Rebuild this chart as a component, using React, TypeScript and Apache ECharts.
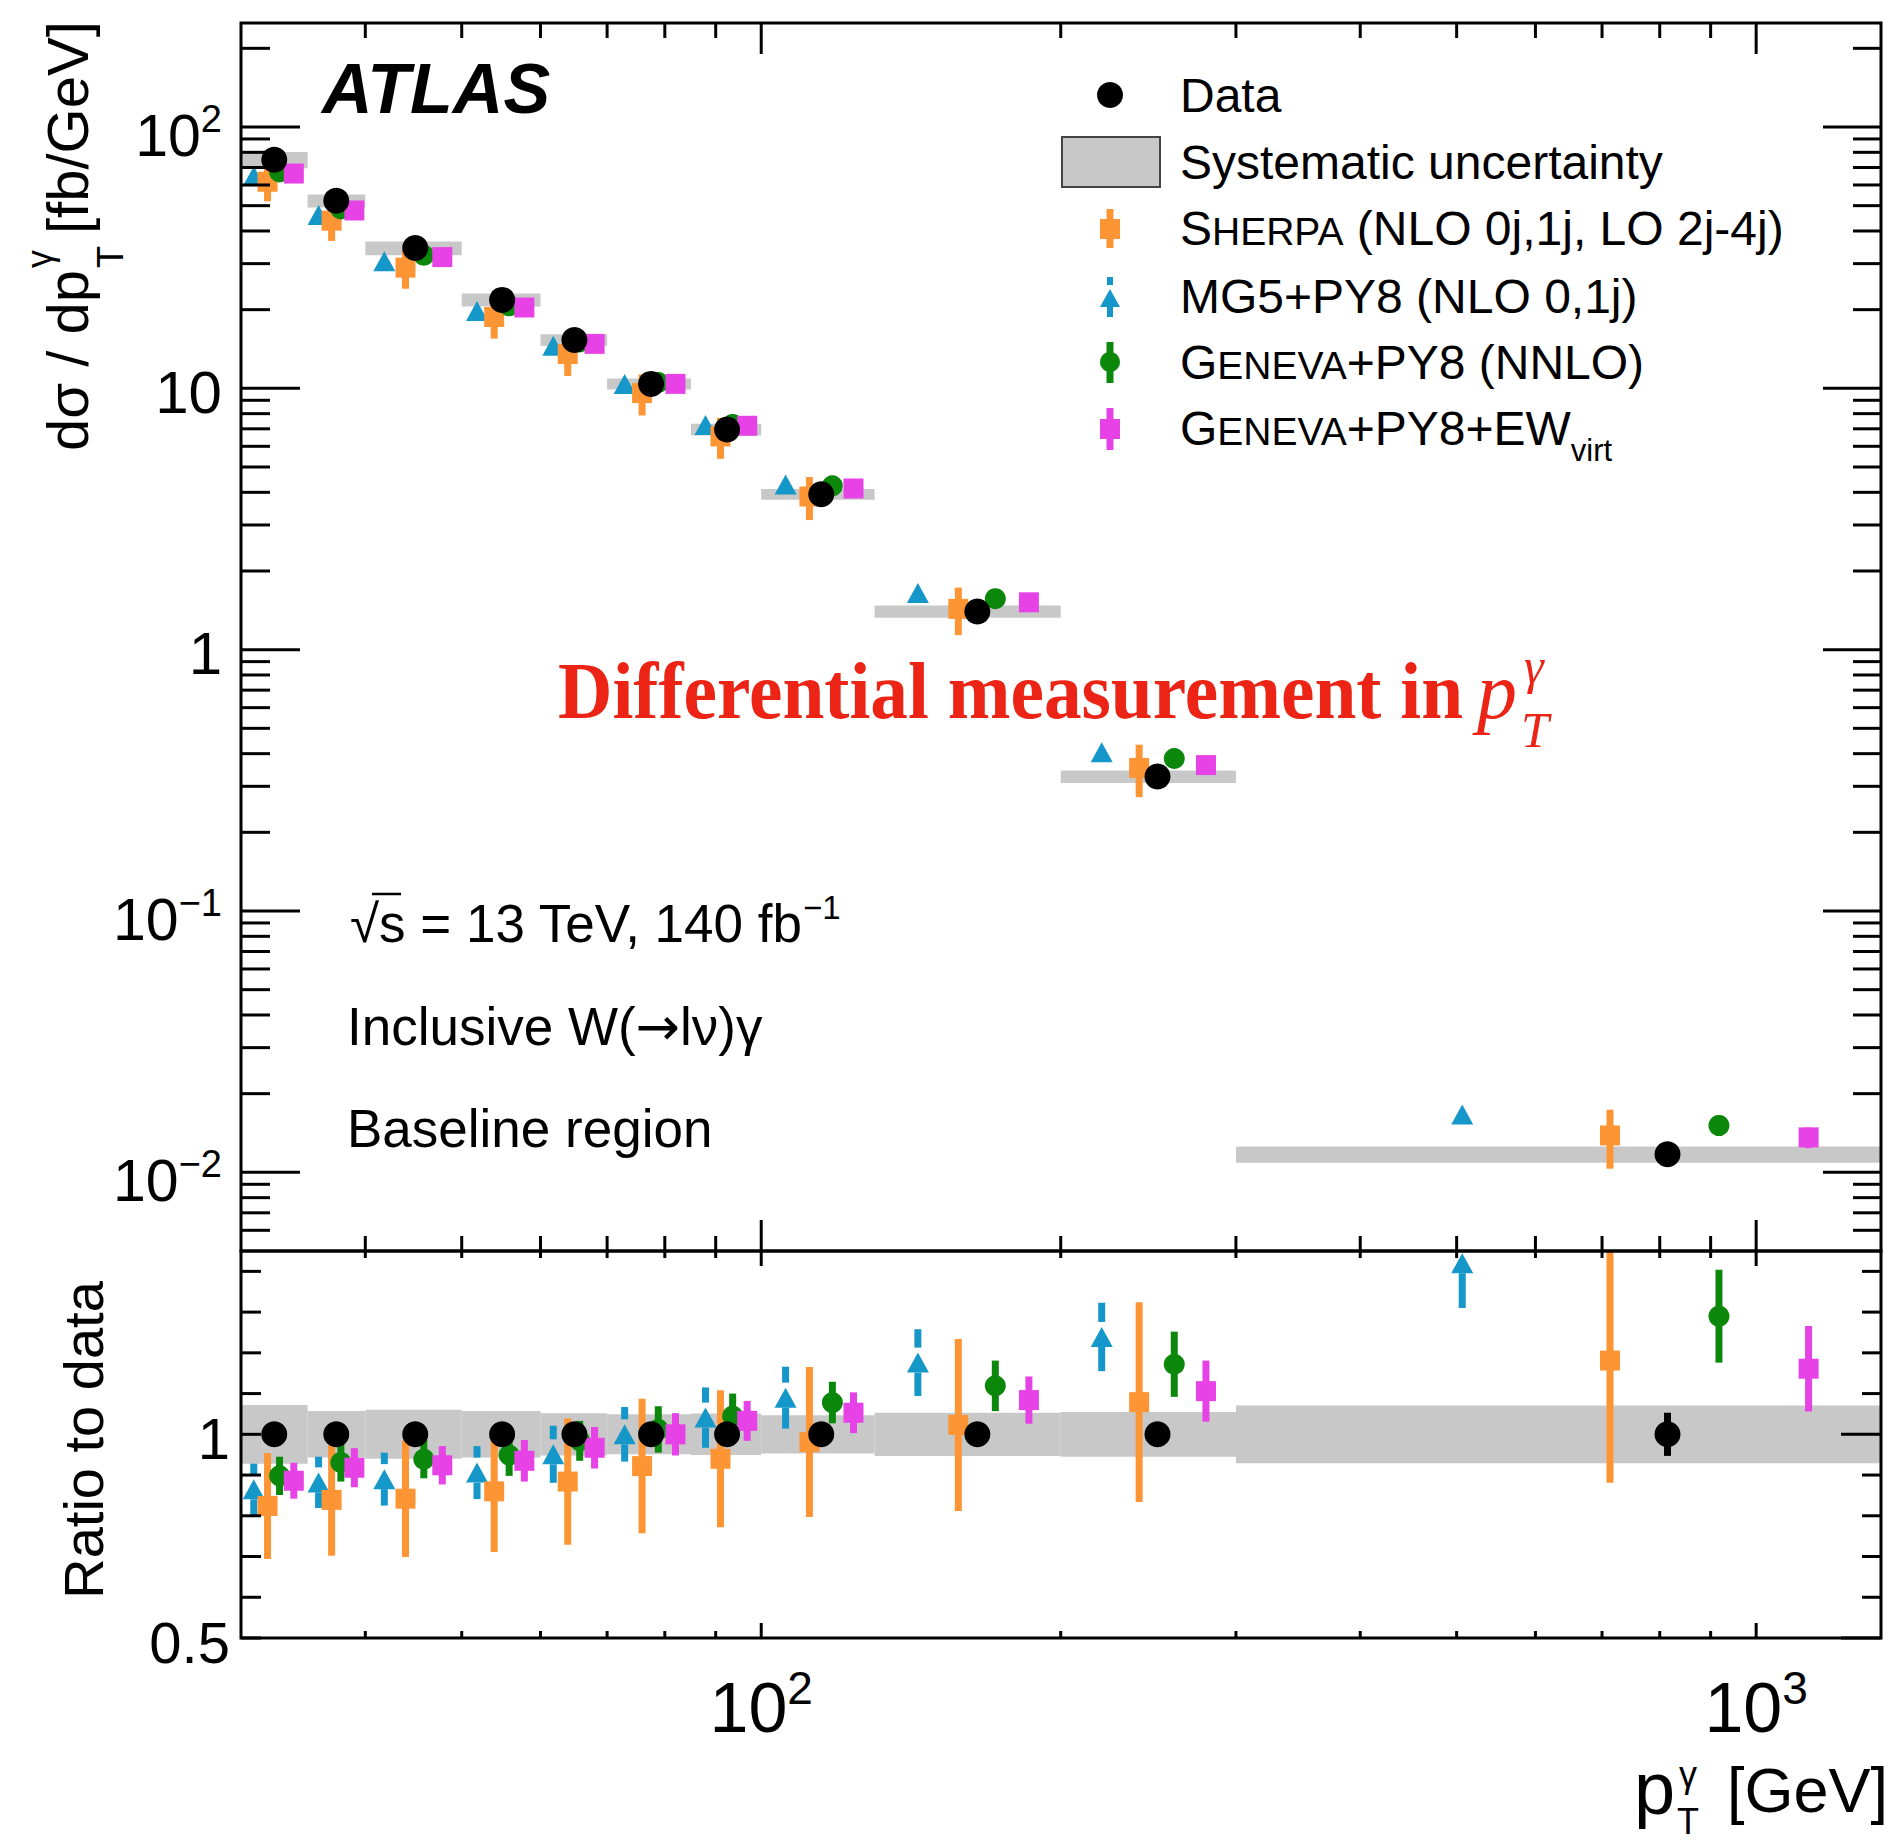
import React, { useEffect, useRef } from 'react';
import * as echarts from 'echarts';

const W = 1891;
const H = 1843;
const FONT = 'Liberation Sans, Arial, Helvetica, sans-serif';
const SERIF = 'Liberation Serif, Times New Roman, serif';

// ---------------- data ----------------
const binEdges = [30, 35, 40, 50, 60, 70, 85, 100, 130, 200, 300, 2000];
const xData = [32.4, 37.4, 44.9, 54.9, 64.9, 77.5, 92.4, 114.9, 164.9, 250.2, 814.5];
const xMG5 = [30.9, 35.9, 41.8, 51.8, 61.8, 72.9, 87.9, 105.8, 143.7, 219.9, 506.5];
const xSherpa = [31.9, 37.0, 43.9, 53.9, 63.9, 75.9, 91.0, 111.8, 157.8, 239.8, 713];
const xGeneva = [32.8, 37.8, 45.8, 55.8, 65.7, 78.8, 93.6, 117.9, 171.9, 260.1, 917.5];
const xGenevaEW = [33.9, 39.0, 47.8, 57.8, 68.0, 82.0, 96.8, 123.8, 185.8, 279.9, 1129];

const dataVals = [74.9, 52.2, 34.4, 21.8, 15.3, 10.4, 6.96, 3.93, 1.40, 0.327, 0.01172];
const dataStat = [0.01, 0.01, 0.01, 0.012, 0.013, 0.015, 0.017, 0.02, 0.025, 0.03, 0.053];
const systRel = [0.072, 0.057, 0.06, 0.057, 0.052, 0.049, 0.051, 0.047, 0.053, 0.055, 0.071];

const ratioSherpa = [0.824, 0.839, 0.842, 0.86, 0.884, 0.922, 0.94, 0.981, 1.023, 1.079, 1.181];
const errSherpa = [0.13, 0.137, 0.143, 0.149, 0.155, 0.165, 0.168, 0.184, 0.211, 0.245, 0.3];
const ratioMG5 = [0.865, 0.882, 0.89, 0.906, 0.951, 1.0, 1.041, 1.09, 1.176, 1.239, 1.42];
const errMG5 = [0.063, 0.063, 0.065, 0.065, 0.07, 0.067, 0.074, 0.076, 0.082, 0.084, 0.11];
const ratioGeneva = [0.898, 0.931, 0.939, 0.949, 0.984, 1.012, 1.045, 1.078, 1.119, 1.172, 1.29];
const errGeneva = [0.047, 0.047, 0.047, 0.051, 0.049, 0.057, 0.055, 0.051, 0.062, 0.08, 0.114];
const ratioGenevaEW = [0.886, 0.918, 0.924, 0.935, 0.967, 1.0, 1.033, 1.053, 1.084, 1.106, 1.161];
const errGenevaEW = [0.044, 0.048, 0.047, 0.051, 0.051, 0.052, 0.049, 0.05, 0.058, 0.075, 0.105];

// axis ticks
const xMajorTicks = [100, 1000];
const xMinorTicks = [40, 50, 60, 70, 80, 90, 200, 300, 400, 500, 600, 700, 800, 900];
const yMajorTicks = [0.01, 0.1, 1, 10, 100];
const yMinorTicks = [
  0.006, 0.007, 0.008, 0.009,
  0.02, 0.03, 0.04, 0.05, 0.06, 0.07, 0.08, 0.09,
  0.2, 0.3, 0.4, 0.5, 0.6, 0.7, 0.8, 0.9,
  2, 3, 4, 5, 6, 7, 8, 9,
  20, 30, 40, 50, 60, 70, 80, 90,
  200,
];
const rMajorTicks = [0.5, 1.0];
const rMinorTicks = [0.6, 0.7, 0.8, 0.9, 1.1, 1.2, 1.3, 1.4];

const X_MIN = 30;
const X_MAX = 1335;
const Y_MIN = 0.005;
const Y_MAX = 250;
const R_MIN = 0.5;
const R_MAX = 1.45;

// colours
const C_SHERPA = '#fd9535';
const C_MG5 = '#1597c9';
const C_GENEVA = '#0b880b';
const C_EW = '#e642e6';
const C_BAND = '#c8c8c8';

// ---------------- render helpers ----------------
function bandRender(params: any, api: any) {
  const p1 = api.coord([api.value(0), api.value(3)]);
  const p2 = api.coord([api.value(1), api.value(2)]);
  const cs = params.coordSys;
  const shape = echarts.graphic.clipRectByRect(
    { x: p1[0], y: p1[1], width: p2[0] - p1[0], height: p2[1] - p1[1] },
    { x: cs.x, y: cs.y, width: cs.width, height: cs.height }
  );
  return shape ? { type: 'rect', shape, style: { fill: C_BAND } } : null;
}

// error bar; optional gap (px above / below the marker centre) leaves the marker region free
function errRender(color: string, lw: number, gapUp = 0, gapDown = 0) {
  return (params: any, api: any) => {
    const pLo = api.coord([api.value(0), api.value(1)]);
    const pHi = api.coord([api.value(0), api.value(2)]);
    if (!gapUp && !gapDown) {
      return {
        type: 'line',
        shape: { x1: pLo[0], y1: pLo[1], x2: pHi[0], y2: pHi[1] },
        style: { stroke: color, lineWidth: lw },
      };
    }
    const pc = api.coord([api.value(0), api.value(3)]);
    const children: any[] = [];
    if (pLo[1] > pc[1] + gapDown) {
      children.push({ type: 'line', shape: { x1: pLo[0], y1: pLo[1], x2: pLo[0], y2: pc[1] + gapDown }, style: { stroke: color, lineWidth: lw } });
    }
    if (pHi[1] < pc[1] - gapUp) {
      children.push({ type: 'line', shape: { x1: pHi[0], y1: pHi[1], x2: pHi[0], y2: pc[1] - gapUp }, style: { stroke: color, lineWidth: lw } });
    }
    return { type: 'group', children };
  };
}

function xTickRender(minor: number, major: number) {
  return (params: any, api: any) => {
    const px = api.coord([api.value(0), api.value(1)])[0];
    const cs = params.coordSys;
    const L = api.value(2) ? major : minor;
    const b = cs.y + cs.height;
    const t = cs.y;
    return {
      type: 'group',
      children: [
        { type: 'line', shape: { x1: px, y1: b, x2: px, y2: b - L }, style: { stroke: '#000', lineWidth: 3 } },
        { type: 'line', shape: { x1: px, y1: t, x2: px, y2: t + L }, style: { stroke: '#000', lineWidth: 3 } },
      ],
    };
  };
}

function yTickRender(lMinor: number, lMajor: number, rMinor: number, rMajor: number) {
  return (params: any, api: any) => {
    const py = api.coord([api.value(0), api.value(1)])[1];
    const cs = params.coordSys;
    const major = api.value(2);
    const Ll = major ? lMajor : lMinor;
    const Lr = major ? rMajor : rMinor;
    const l = cs.x;
    const r = cs.x + cs.width;
    return {
      type: 'group',
      children: [
        { type: 'line', shape: { x1: l, y1: py, x2: l + Ll, y2: py }, style: { stroke: '#000', lineWidth: 3 } },
        { type: 'line', shape: { x1: r, y1: py, x2: r - Lr, y2: py }, style: { stroke: '#000', lineWidth: 3 } },
      ],
    };
  };
}

function frameRender(params: any) {
  const cs = params.coordSys;
  return {
    type: 'rect',
    shape: { x: cs.x, y: cs.y, width: cs.width, height: cs.height },
    style: { fill: 'none', stroke: '#000', lineWidth: 3 },
  };
}

function logLabel(v: number) {
  const e = Math.log10(v);
  const r = Math.round(e);
  if (Math.abs(e - r) > 1e-6) return '';
  if (r === 0) return '{n|1}';
  if (r === 1) return '{n|10}';
  return `{m|10}{s|${r < 0 ? '\u2212' : ''}${Math.abs(r)}}`;
}

// ---------------- series builders ----------------
const binBands = dataVals.map((d, i) => [binEdges[i], binEdges[i + 1], d * (1 - systRel[i]), d * (1 + systRel[i])]);
const ratioBands = dataVals.map((_, i) => [binEdges[i], binEdges[i + 1], 1 - systRel[i], 1 + systRel[i]]);

type Pred = {
  name: string; x: number[]; ratio: number[]; err: number[]; color: string; symbol: string; size: any;
  gapUp: number; gapDown: number;
};
const preds: Pred[] = [
  { name: 'MG5', x: xMG5, ratio: ratioMG5, err: errMG5, color: C_MG5, symbol: 'triangle', size: [22, 20], gapUp: 15, gapDown: 10 },
  { name: 'Sherpa', x: xSherpa, ratio: ratioSherpa, err: errSherpa, color: C_SHERPA, symbol: 'rect', size: 20, gapUp: 0, gapDown: 0 },
  { name: 'Geneva', x: xGeneva, ratio: ratioGeneva, err: errGeneva, color: C_GENEVA, symbol: 'circle', size: 21, gapUp: 0, gapDown: 0 },
  { name: 'GenevaEW', x: xGenevaEW, ratio: ratioGenevaEW, err: errGenevaEW, color: C_EW, symbol: 'rect', size: 20, gapUp: 0, gapDown: 0 },
];

function buildSeries() {
  const s: any[] = [];
  s.push({ type: 'custom', xAxisIndex: 0, yAxisIndex: 0, renderItem: bandRender, data: binBands, encode: { x: [0, 1], y: [2, 3] }, silent: true });
  s.push({ type: 'custom', xAxisIndex: 1, yAxisIndex: 1, renderItem: bandRender, data: ratioBands, encode: { x: [0, 1], y: [2, 3] }, silent: true });
  for (const p of preds) {
    // top panel
    s.push({
      type: 'custom', xAxisIndex: 0, yAxisIndex: 0, clip: true, silent: true,
      renderItem: errRender(p.color, 7, p.gapUp, p.gapDown),
      data: p.x.map((x, i) => [
        x,
        dataVals[i] * (p.ratio[i] - p.err[i]),
        dataVals[i] * (p.ratio[i] + p.err[i]),
        dataVals[i] * p.ratio[i],
      ]),
      encode: { x: 0, y: [1, 2] },
    });
    s.push({
      type: 'scatter', name: p.name, xAxisIndex: 0, yAxisIndex: 0, clip: true, silent: true,
      symbol: p.symbol, symbolSize: p.size, itemStyle: { color: p.color, opacity: 1 },
      data: p.x.map((x, i) => [x, dataVals[i] * p.ratio[i]]),
    });
    // ratio panel
    s.push({
      type: 'custom', xAxisIndex: 1, yAxisIndex: 1, clip: true, silent: true,
      renderItem: errRender(p.color, 7, p.gapUp, p.gapDown),
      data: p.x.map((x, i) => [x, p.ratio[i] - p.err[i], p.ratio[i] + p.err[i], p.ratio[i]]),
      encode: { x: 0, y: [1, 2] },
    });
    s.push({
      type: 'scatter', xAxisIndex: 1, yAxisIndex: 1, clip: true, silent: true,
      symbol: p.symbol, symbolSize: p.size, itemStyle: { color: p.color, opacity: 1 },
      data: p.x.map((x, i) => [x, p.ratio[i]]),
    });
  }
  // data
  s.push({
    type: 'custom', xAxisIndex: 0, yAxisIndex: 0, clip: true, silent: true,
    renderItem: errRender('#000', 7),
    data: xData.map((x, i) => [x, dataVals[i] * (1 - dataStat[i]), dataVals[i] * (1 + dataStat[i])]),
    encode: { x: 0, y: [1, 2] },
  });
  s.push({
    type: 'scatter', xAxisIndex: 0, yAxisIndex: 0, clip: true, silent: true,
    symbol: 'circle', symbolSize: 26, itemStyle: { color: '#000', opacity: 1 },
    data: xData.map((x, i) => [x, dataVals[i]]),
  });
  s.push({
    type: 'custom', xAxisIndex: 1, yAxisIndex: 1, clip: true, silent: true,
    renderItem: errRender('#000', 7),
    data: xData.map((x, i) => [x, 1 - dataStat[i], 1 + dataStat[i]]),
    encode: { x: 0, y: [1, 2] },
  });
  s.push({
    type: 'scatter', xAxisIndex: 1, yAxisIndex: 1, clip: true, silent: true,
    symbol: 'circle', symbolSize: 26, itemStyle: { color: '#000', opacity: 1 },
    data: xData.map((x) => [x, 1]),
  });
  // ticks
  const xt = [...xMajorTicks.map((v) => [v, 1, 1]), ...xMinorTicks.map((v) => [v, 1, 0])];
  s.push({ type: 'custom', xAxisIndex: 0, yAxisIndex: 0, silent: true, renderItem: xTickRender(15, 31), data: xt, encode: { x: 0, y: 1 }, z: 10 });
  s.push({ type: 'custom', xAxisIndex: 1, yAxisIndex: 1, silent: true, renderItem: xTickRender(7, 15), data: xt, encode: { x: 0, y: 1 }, z: 10 });
  const yt = [...yMajorTicks.map((v) => [X_MIN, v, 1]), ...yMinorTicks.map((v) => [X_MIN, v, 0])];
  s.push({ type: 'custom', xAxisIndex: 0, yAxisIndex: 0, silent: true, renderItem: yTickRender(29, 59, 28, 58), data: yt, encode: { x: 0, y: 1 }, z: 10 });
  const rt = [...rMajorTicks.map((v) => [X_MIN, v, 1]), ...rMinorTicks.map((v) => [X_MIN, v, 0])];
  s.push({ type: 'custom', xAxisIndex: 1, yAxisIndex: 1, silent: true, renderItem: yTickRender(20, 20, 19, 40), data: rt, encode: { x: 0, y: 1 }, z: 10 });
  // frames
  s.push({ type: 'custom', xAxisIndex: 0, yAxisIndex: 0, silent: true, renderItem: frameRender, data: [[X_MIN, 1]], encode: { x: 0, y: 1 }, z: 11 });
  s.push({ type: 'custom', xAxisIndex: 1, yAxisIndex: 1, silent: true, renderItem: frameRender, data: [[X_MIN, 1]], encode: { x: 0, y: 1 }, z: 11 });
  return s;
}

// ---------------- graphic (texts, legend) ----------------
const txt = (x: number, y: number, style: any, extra: any = {}) => ({
  type: 'text', x, y, silent: true, z: 100,
  style: { fill: '#000', fontFamily: FONT, verticalAlign: 'middle', align: 'left', ...style },
  ...extra,
});

function tok(size: number, lh: number, pad: number[] = [0, 0, 0, 0], extra: any = {}) {
  return { fontSize: size, fontFamily: FONT, fill: '#000', color: '#000', lineHeight: lh, padding: pad, ...extra };
}

const LEG_X = 1110;
const LEG_TX = 1180;
const legRich = {
  a: tok(48, 60),
  c: tok(39, 60, [7, 0, 0, 0]),
  v: tok(31, 60, [44, 0, 0, 0]),
};

function buildGraphic() {
  const g: any[] = [];
  g.push(txt(322, 89, { text: 'ATLAS', fontSize: 70, fontWeight: 'bold', fontStyle: 'italic' }));

  // legend markers
  g.push({ type: 'circle', shape: { cx: LEG_X, cy: 95, r: 13 }, style: { fill: '#000' }, z: 100 });
  g.push({ type: 'rect', shape: { x: 1062, y: 137, width: 98, height: 50 }, style: { fill: C_BAND, stroke: '#444', lineWidth: 2 }, z: 100 });
  g.push({ type: 'line', shape: { x1: LEG_X, y1: 209, x2: LEG_X, y2: 248 }, style: { stroke: C_SHERPA, lineWidth: 7 }, z: 100 });
  g.push({ type: 'rect', shape: { x: LEG_X - 10, y: 219, width: 20, height: 20 }, style: { fill: C_SHERPA }, z: 100 });
  g.push({ type: 'line', shape: { x1: LEG_X, y1: 277, x2: LEG_X, y2: 285 }, style: { stroke: C_MG5, lineWidth: 6 }, z: 100 });
  g.push({ type: 'line', shape: { x1: LEG_X, y1: 306, x2: LEG_X, y2: 317 }, style: { stroke: C_MG5, lineWidth: 6 }, z: 100 });
  g.push({ type: 'polygon', shape: { points: [[LEG_X - 10, 307], [LEG_X + 10, 307], [LEG_X, 289]] }, style: { fill: C_MG5 }, z: 100 });
  g.push({ type: 'line', shape: { x1: LEG_X, y1: 342, x2: LEG_X, y2: 383 }, style: { stroke: C_GENEVA, lineWidth: 7 }, z: 100 });
  g.push({ type: 'circle', shape: { cx: LEG_X, cy: 362, r: 10 }, style: { fill: C_GENEVA }, z: 100 });
  g.push({ type: 'line', shape: { x1: LEG_X, y1: 408, x2: LEG_X, y2: 450 }, style: { stroke: C_EW, lineWidth: 7 }, z: 100 });
  g.push({ type: 'rect', shape: { x: LEG_X - 10, y: 419, width: 20, height: 20 }, style: { fill: C_EW }, z: 100 });

  // legend texts
  g.push(txt(LEG_TX, 95, { text: '{a|Data}', rich: legRich }));
  g.push(txt(LEG_TX, 162, { text: '{a|Systematic uncertainty}', rich: legRich }));
  g.push(txt(LEG_TX, 228, { text: '{a|S}{c|HERPA}{a| (NLO 0j,1j, LO 2j-4j)}', rich: legRich }));
  g.push(txt(LEG_TX, 296, { text: '{a|MG5+PY8 (NLO 0,1j)}', rich: legRich }));
  g.push(txt(LEG_TX, 362, { text: '{a|G}{c|ENEVA}{a|+PY8 (NNLO)}', rich: legRich }));
  g.push(txt(LEG_TX, 428, { text: '{a|G}{c|ENEVA}{a|+PY8+EW}{v|virt}', rich: legRich }));

  // annotations
  g.push(txt(350, 923, {
    text: '{a|\u221As = 13 TeV, 140 fb}{s|\u22121}',
    rich: { a: tok(53, 64), s: tok(33, 64, [0, 0, 32, 0]) },
  }));
  g.push({ type: 'line', shape: { x1: 372, y1: 894, x2: 401, y2: 894 }, style: { stroke: '#000', lineWidth: 2.5 }, z: 100 });
  g.push(txt(347, 1026, {
    text: '{a|Inclusive W(}{r|\u2192}{a|l\u03BD)\u03B3}',
    rich: { a: tok(53, 64), r: tok(53, 64, [0, 0, 0, 0], { fontFamily: 'DejaVu Sans' }) },
  }));
  g.push(txt(347, 1128, { text: 'Baseline region', fontSize: 53 }));

  // red title
  const RED = '#eb2415';
  g.push(txt(558, 691, { text: 'Differential measurement in', fontSize: 81, fontWeight: 'bold', fontFamily: SERIF, fill: RED }, { scaleX: 0.93 }));
  g.push(txt(1477, 691, { text: 'p', fontSize: 80, fontStyle: 'italic', fontFamily: SERIF, fill: RED }));
  g.push(txt(1524, 666, { text: '\u03B3', fontSize: 50, fontStyle: 'italic', fontFamily: SERIF, fill: RED }));
  g.push(txt(1521, 730, { text: 'T', fontSize: 50, fontStyle: 'italic', fontFamily: SERIF, fill: RED }));

  // y title (top)
  g.push({
    type: 'group', x: 67, y: 451, rotation: Math.PI / 2, z: 100,
    children: [
      txt(0, 0, { text: 'd\u03C3 / dp', fontSize: 58 }),
      txt(183, -28, { text: '\u03B3', fontSize: 36 }),
      txt(183, 43, { text: 'T', fontSize: 36 }),
      txt(217, 0, { text: '[fb/GeV]', fontSize: 58 }),
    ],
  });
  // y title (ratio)
  g.push({
    type: 'group', x: 83, y: 1440, rotation: Math.PI / 2, z: 100,
    children: [txt(0, 0, { text: 'Ratio to data', fontSize: 56, align: 'center' })],
  });
  // x title
  g.push(txt(1634, 1788, { text: 'p', fontSize: 74 }));
  g.push(txt(1679, 1774, { text: '\u03B3', fontSize: 36 }));
  g.push(txt(1677, 1821, { text: 'T', fontSize: 36 }));
  g.push(txt(1888, 1790, { text: '[GeV]', fontSize: 63, align: 'right' }));
  return g;
}

const hiddenAxis = {
  axisLine: { show: false },
  axisTick: { show: false },
  splitLine: { show: false },
  minorTick: { show: false },
  minorSplitLine: { show: false },
};

function buildOption() {
  return {
    animation: false,
    backgroundColor: '#ffffff',
    textStyle: { fontFamily: FONT },
    grid: [
      { left: 241, top: 23, width: 1640, height: 1228, show: false },
      { left: 241, top: 1251, width: 1640, height: 387, show: false },
    ],
    xAxis: [
      { gridIndex: 0, type: 'log', logBase: 10, min: X_MIN, max: X_MAX, axisLabel: { show: false }, ...hiddenAxis },
      {
        gridIndex: 1, type: 'log', logBase: 10, min: X_MIN, max: X_MAX, ...hiddenAxis,
        axisLabel: {
          show: true, margin: 30, formatter: logLabel,
          rich: { m: tok(70, 80), s: tok(46, 80, [0, 0, 40, 0]), n: tok(70, 80) },
        },
      },
    ],
    yAxis: [
      {
        gridIndex: 0, type: 'log', logBase: 10, min: Y_MIN, max: Y_MAX, ...hiddenAxis,
        axisLabel: {
          show: true, margin: 19, formatter: logLabel,
          rich: { m: tok(59, 80, [18, 0, 0, 0]), s: tok(38, 80, [0, 0, 16, 0]), n: tok(60, 80, [8, 0, 0, 0]) },
        },
      },
      {
        gridIndex: 1, type: 'value', min: R_MIN, max: R_MAX, interval: 0.5, ...hiddenAxis,
        axisLabel: {
          show: true, margin: 11,
          formatter: (v: number) => (Math.abs(v - 1) < 1e-9 ? '{n|1}' : Math.abs(v - 0.5) < 1e-9 ? '{n|0.5}' : ''),
          rich: { n: tok(58, 70, [8, 0, 0, 0]) },
        },
      },
    ],
    series: buildSeries(),
    graphic: buildGraphic(),
  };
}

export default function App() {
  const ref = useRef<HTMLDivElement>(null);
  useEffect(() => {
    if (!ref.current) return;
    const chart = echarts.init(ref.current, null, { renderer: 'svg', width: W, height: H });
    chart.setOption(buildOption() as any);
    return () => chart.dispose();
  }, []);
  return (
    <div
      ref={ref}
      style={{ position: 'absolute', left: 0, top: 0, width: W, height: H, background: '#fff' }}
    />
  );
}
